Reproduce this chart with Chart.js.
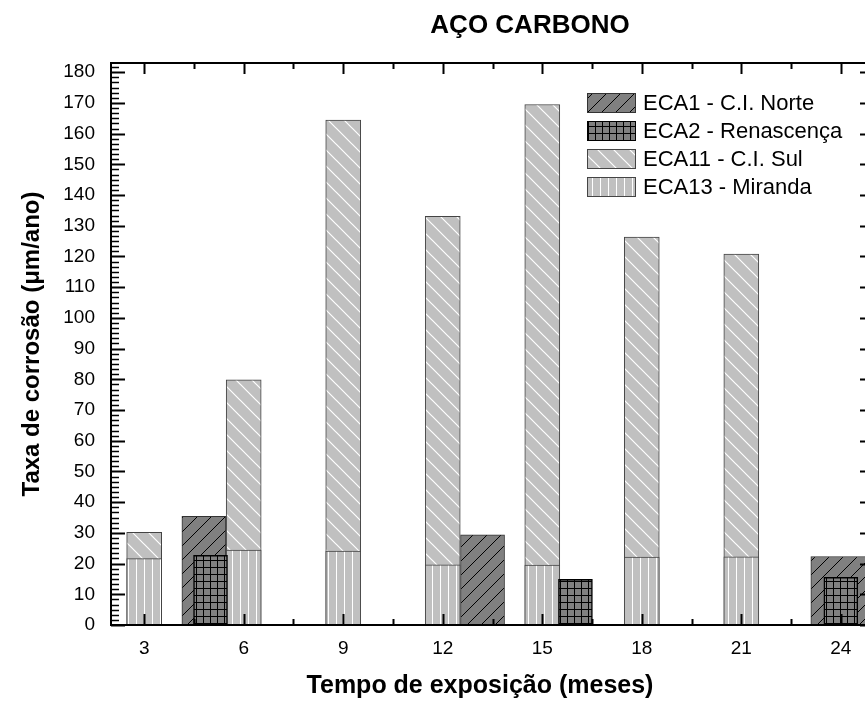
<!DOCTYPE html>
<html>
<head>
<meta charset="utf-8">
<title>Aço carbono</title>
<style>
  html, body { margin: 0; padding: 0; overflow: hidden; background: #fff; }
  #wrap { width: 876px; height: 702px; }
</style>
</head>
<body>
<div id="wrap"><canvas id="chart"></canvas></div>
<script src="https://cdn.jsdelivr.net/npm/chart.js@4.4.1/dist/chart.umd.min.js"></script>
<script>
const chartTitle = 'AÇO CARBONO';
const xTitle = 'Tempo de exposição (meses)';
const yTitle = 'Taxa de corrosão (μm/ano)';

// tick labels
const monthTicks = [3, 6, 9, 12, 15, 18, 21, 24];
const rateTicks = [0, 10, 20, 30, 40, 50, 60, 70, 80, 90, 100, 110, 120, 130, 140, 150, 160, 170, 180];

// ECA11 and ECA13 share the same months
const monthsSulMiranda = [3, 6, 9, 12, 15, 18, 21];
const eca11Sul = [30.2, 79.8, 164.4, 133.1, 169.5, 126.3, 120.8];
const eca13Miranda = [21.6, 24.4, 24.1, 19.6, 19.5, 22.1, 22.2];

// ECA1 - the last one (24 meses) is drawn wider in the original
const monthsNorte = [4.8, 13.2];
const eca1Norte = [35.4, 29.4];
const monthsNorteFinal = [24];
const eca1NorteFinal = [22.3];

const monthsRenascenca = [5, 16, 24];
const eca2Renascenca = [22.7, 14.9, 15.5];

const seriesNames = ['ECA1 - C.I. Norte', 'ECA2 - Renascença', 'ECA11 - C.I. Sul', 'ECA13 - Miranda'];

const FONT = '"Liberation Sans", Arial, Helvetica, sans-serif';
const canvas = document.getElementById('chart');
const mainCtx = canvas.getContext('2d');

// hatch fills like the Origin patterns
function hatch(bg, fg, size, width, draw) {
  const c = document.createElement('canvas');
  c.width = c.height = size;
  const g = c.getContext('2d');
  g.fillStyle = bg;
  g.fillRect(0, 0, size, size);
  g.strokeStyle = fg;
  g.lineWidth = width;
  g.beginPath();
  draw(g, size);
  g.stroke();
  return mainCtx.createPattern(c, 'repeat');
}

const fwdDiag = (g, s) => {
  g.moveTo(0, s); g.lineTo(s, 0);
  g.moveTo(-2, 2); g.lineTo(2, -2);
  g.moveTo(s - 2, s + 2); g.lineTo(s + 2, s - 2);
};
const backDiag = (g, s) => {
  g.moveTo(0, 0); g.lineTo(s, s);
  g.moveTo(-2, s - 2); g.lineTo(2, s + 2);
  g.moveTo(s - 2, -2); g.lineTo(s + 2, 2);
};
const gridLines = (g, s) => {
  g.moveTo(0.5, 0); g.lineTo(0.5, s);
  g.moveTo(0, 0.5); g.lineTo(s, 0.5);
};
const vertLines = (g, s) => {
  g.moveTo(0.5, 0); g.lineTo(0.5, s);
};

const fills = [
  hatch('#808080', '#000', 14, 1, fwdDiag),
  hatch('#808080', '#000', 7, 1, gridLines),
  hatch('#c0c0c0', '#fff', 16, 1.2, backDiag),
  hatch('#c0c0c0', '#fff', 8, 1, vertLines)
];
const borders = ['#333', '#000', '#444', '#444'];

const pts = (xs, ys) => xs.map((x, i) => ({ x: x, y: ys[i] }));

// frame, inward ticks on all four sides, titles and legend
const framePlugin = {
  id: 'frame',
  afterDatasetsDraw(chart) {
    const { ctx, chartArea: a, scales: { x, y } } = chart;
    ctx.save();
    ctx.strokeStyle = '#000';

    // y ticks: major every 10, 5 minors between
    for (let i = 0; i * 10 / 6 <= y.max + 0.01; i++) {
      const major = i % 6 === 0;
      const py = Math.round(y.getPixelForValue(i * 10 / 6)) + 0.5;
      const len = major ? 14 : 8;
      ctx.lineWidth = major ? 2 : 1.5;
      ctx.beginPath();
      ctx.moveTo(a.left, py); ctx.lineTo(a.left + len, py);
      ctx.moveTo(a.right, py); ctx.lineTo(a.right - len, py);
      ctx.stroke();
    }
    // x ticks: major every 3 months, minor halfway
    for (let v = 3; v <= x.max; v += 1.5) {
      const major = v % 3 === 0;
      const px = Math.round(x.getPixelForValue(v)) + 0.5;
      const len = major ? 11 : 6;
      ctx.lineWidth = 2;
      ctx.beginPath();
      ctx.moveTo(px, a.bottom); ctx.lineTo(px, a.bottom - len);
      ctx.moveTo(px, a.top); ctx.lineTo(px, a.top + len);
      ctx.stroke();
    }
    ctx.lineWidth = 2;
    ctx.strokeRect(a.left, a.top, a.right - a.left, a.bottom - a.top);
    ctx.restore();
  },
  afterDraw(chart) {
    const { ctx } = chart;
    ctx.save();
    ctx.fillStyle = '#000';
    ctx.textAlign = 'center';
    ctx.textBaseline = 'alphabetic';
    ctx.font = 'bold 26px ' + FONT;
    ctx.fillText(chartTitle, 530, 33);
    ctx.font = 'bold 25px ' + FONT;
    ctx.fillText(xTitle, 480, 693);

    // legend
    ctx.font = '22px ' + FONT;
    ctx.textAlign = 'left';
    seriesNames.forEach((name, i) => {
      const top = 93 + i * 28;
      ctx.fillStyle = fills[i];
      ctx.fillRect(587, top, 48, 19);
      ctx.strokeStyle = borders[i];
      ctx.lineWidth = 1;
      ctx.strokeRect(587.5, top + 0.5, 48, 19);
      ctx.fillStyle = '#000';
      ctx.fillText(name, 643, top + 17);
    });
    ctx.restore();
  }
};

new Chart(canvas, {
  type: 'bar',
  data: {
    datasets: [
      { label: seriesNames[0], data: pts(monthsNorte, eca1Norte), backgroundColor: fills[0],
        borderColor: borders[0], borderWidth: 1, barThickness: 44, order: 2 },
      { label: seriesNames[1], data: pts(monthsRenascenca, eca2Renascenca), backgroundColor: fills[1],
        borderColor: borders[1], borderWidth: 1.5, barThickness: 34, order: 0 },
      { label: seriesNames[2], data: pts(monthsSulMiranda, eca11Sul), backgroundColor: fills[2],
        borderColor: borders[2], borderWidth: 1, barThickness: 35, order: 3 },
      { label: seriesNames[3], data: pts(monthsSulMiranda, eca13Miranda), backgroundColor: fills[3],
        borderColor: borders[3], borderWidth: 1, barThickness: 35, order: 1 },
      { label: seriesNames[0], data: pts(monthsNorteFinal, eca1NorteFinal), backgroundColor: fills[0],
        borderColor: borders[0], borderWidth: 1, barThickness: 60, order: 2 }
    ]
  },
  options: {
    responsive: true,
    maintainAspectRatio: false,
    animation: false,
    datasets: { bar: { grouped: false } },
    layout: { padding: { top: 63, right: 2, bottom: 2, left: 0 } },
    plugins: {
      legend: { display: false },
      title: { display: false },
      tooltip: { enabled: false }
    },
    scales: {
      x: {
        type: 'linear',
        min: 2,
        max: 25,
        offset: false,
        afterBuildTicks: (s) => { s.ticks = monthTicks.map(v => ({ value: v })); },
        afterFit: (s) => { s.height = 75; },
        grid: { display: false, drawTicks: false },
        border: { display: false },
        ticks: { padding: 12, color: '#000', maxRotation: 0, autoSkip: false, font: { family: FONT, size: 19 } },
        title: { display: false, text: xTitle }
      },
      y: {
        min: 0,
        max: 183,
        offset: false,
        afterBuildTicks: (s) => { s.ticks = rateTicks.map(v => ({ value: v })); },
        afterFit: (s) => { s.width = 111; },
        grid: { display: false, drawTicks: false },
        border: { display: false },
        ticks: { padding: 16, color: '#000', autoSkip: false, font: { family: FONT, size: 19 } },
        title: { display: true, text: yTitle, color: '#000', padding: { top: 18, bottom: 0 },
                 font: { family: FONT, size: 24, weight: 'bold' } }
      }
    }
  },
  plugins: [framePlugin]
});
</script>
</body>
</html>
